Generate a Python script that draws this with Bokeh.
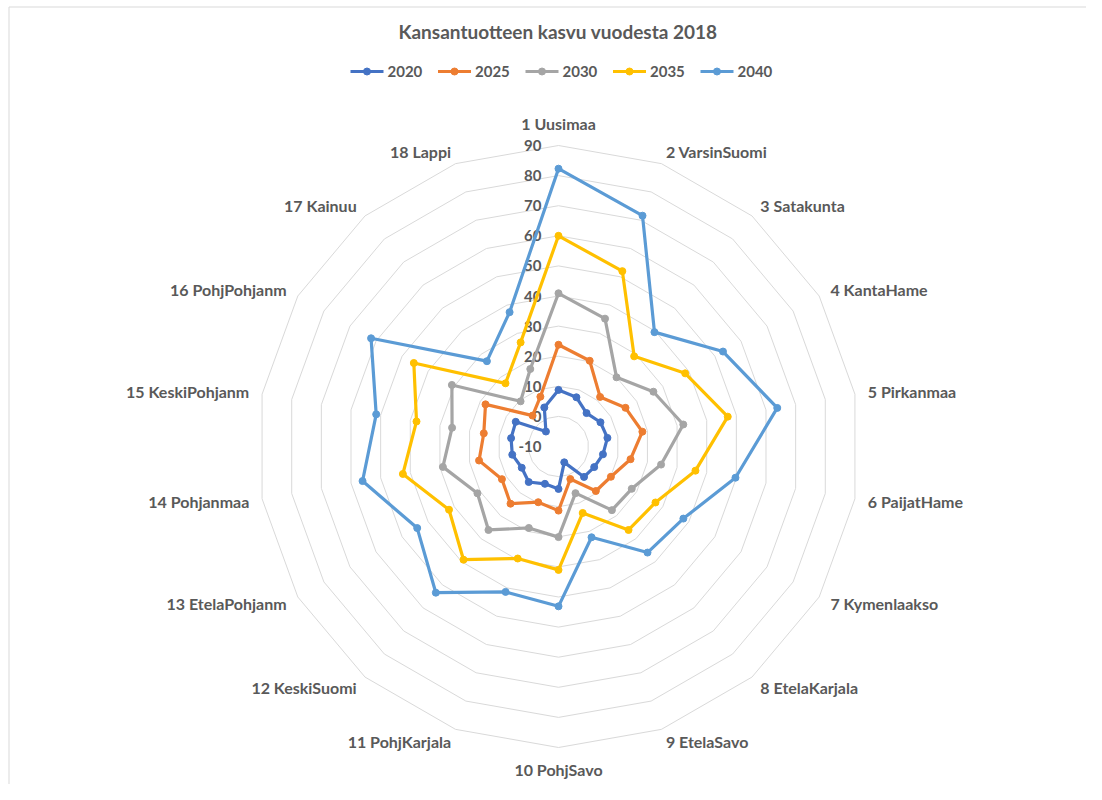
import numpy as np
from bokeh.plotting import figure
from bokeh.models import Range1d
from bokeh.embed import file_html
from bokeh.resources import INLINE
from bokeh.core.properties import value

# ---------------- data ----------------
title = "Kansantuotteen kasvu vuodesta 2018"
categories = ["1 Uusimaa", "2 VarsinSuomi", "3 Satakunta", "4 KantaHame", "5 Pirkanmaa",
              "6 PaijatHame", "7 Kymenlaakso", "8 EtelaKarjala", "9 EtelaSavo", "10 PohjSavo",
              "11 PohjKarjala", "12 KeskiSuomi", "13 EtelaPohjanm", "14 Pohjanmaa",
              "15 KeskiPohjanm", "16 PohjPohjanm", "17 Kainuu", "18 Lappi"]
years = ["2020", "2025", "2030", "2035", "2040"]
v2020 = [8.8, 7.4, 4.5, 6.1, 6.5, 5.0, 3.7, 3.2, -4.4, 4.1, 3.2, 5.4, 4.1, 5.6, 6.0, 6.4, -3.5, 3.8]
v2025 = [23.8, 20.3, 11.5, 15.7, 18.3, 14.3, 10.1, 9.3, 1.5, 11.3, 9.7, 14.8, 11.7, 16.8, 15.2, 18.0, 3.4, 7.6]
v2030 = [40.9, 35.2, 20.0, 26.4, 32.1, 24.6, 18.1, 17.6, 6.5, 20.1, 18.8, 26.2, 21.1, 29.0, 25.9, 30.9, 9.6, 17.4]
v2035 = [60.0, 52.0, 29.1, 38.6, 47.1, 36.2, 27.2, 26.2, 13.5, 31.0, 29.6, 39.1, 32.0, 42.5, 37.9, 45.5, 17.4, 26.8]
v2040 = [82.3, 71.6, 39.6, 53.1, 63.8, 49.7, 37.9, 36.0, 22.1, 43.1, 41.4, 53.4, 44.2, 56.1, 51.5, 61.9, 27.0, 37.5]
series = [v2020, v2025, v2030, v2035, v2040]
colors = ["#4472C4", "#ED7D31", "#A5A5A5", "#FFC000", "#5B9BD5"]
ticks = list(range(-10, 100, 10))
tick_labels = [str(t) for t in ticks]

# ---------------- layout ----------------
W, H = 1086, 784
CX, CY = 558.0, 446.0          # radar centre (screen pixels)
SCALE = 3.01                   # pixels per unit
RMIN = ticks[0]
TEXT = "#595959"
FONT = value("Lato")

p = figure(width=W, height=H, x_range=Range1d(0, W), y_range=Range1d(H, 0),
           output_backend="svg", toolbar_location=None, min_border=0,
           x_axis_type=None, y_axis_type=None)
p.grid.visible = False
p.outline_line_color = None
p.background_fill_color = "white"
p.border_fill_color = "white"

n = len(categories)
theta = 2 * np.pi * np.arange(n) / n
S, C = np.sin(theta), np.cos(theta)


def polar(vals):
    r = (np.asarray(vals, dtype=float) - RMIN) * SCALE
    return CX + r * S, CY - r * C


# chart-area border (left & top)
p.segment(x0=[8.5, 8.5], y0=[H, 6.5], x1=[8.5, W], y1=[6.5, 6.5], line_color="#D9D9D9", line_width=1)

# grid rings
gx, gy = [], []
for t in ticks[1:]:
    xs, ys = polar([t] * n)
    gx.append(list(xs) + [xs[0]])
    gy.append(list(ys) + [ys[0]])
p.multi_line(gx, gy, line_color="#D9D9D9", line_width=1)

# radial tick labels
p.text(x=[CX - 17] * len(ticks), y=[CY - (t - RMIN) * SCALE for t in ticks], text=tick_labels,
       text_font=FONT, text_font_style="bold", text_font_size="15px", text_color=TEXT,
       text_align="right", text_baseline="middle")

# series
for vals, col in zip(series, colors):
    xs, ys = polar(vals)
    p.line(list(xs) + [xs[0]], list(ys) + [ys[0]], line_color=col, line_width=3.2, line_join="round")
    p.scatter(xs, ys, size=7, marker="circle", fill_color=col, line_color=col)

# category labels
lx, ly, la = [], [], []
for i in range(n):
    if abs(S[i]) < 0.1:
        r = 323
        la.append("center")
    else:
        r = 314
        la.append("left" if S[i] > 0 else "right")
    lx.append(CX + r * S[i])
    ly.append(CY - r * C[i])
for a in ["left", "right", "center"]:
    idx = [i for i in range(n) if la[i] == a]
    p.text(x=[lx[i] for i in idx], y=[ly[i] for i in idx], text=[categories[i] for i in idx],
           text_font=FONT, text_font_style="bold", text_font_size="16px", text_color=TEXT,
           text_align=a, text_baseline="middle")

# title
p.text(x=[557.5], y=[30.5], text=[title], text_font=FONT, text_font_style="bold",
       text_font_size="19px", text_color=TEXT, text_align="center", text_baseline="middle")

# legend
LX0, LY, STEP, GW = 350, 71, 87.5, 33
for k, (yr, col) in enumerate(zip(years, colors)):
    x0 = LX0 + k * STEP
    p.segment(x0=[x0], y0=[LY], x1=[x0 + GW], y1=[LY], line_color=col, line_width=3)
    p.scatter([x0 + GW / 2], [LY], size=7, marker="circle", fill_color=col, line_color=col)
    p.text(x=[x0 + GW + 4], y=[LY], text=[yr], text_font=FONT, text_font_style="bold",
           text_font_size="15px", text_color=TEXT, text_align="left", text_baseline="middle")

open("out.html", "w").write(file_html(p, INLINE))
